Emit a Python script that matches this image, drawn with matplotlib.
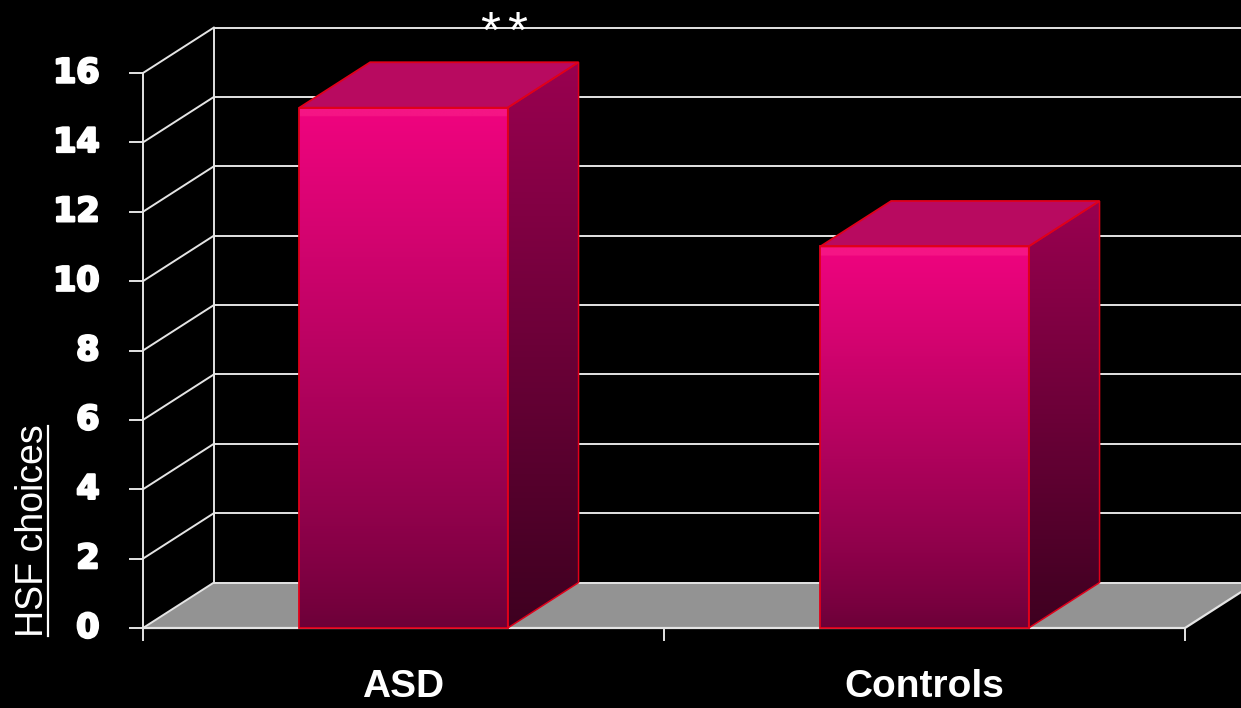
import matplotlib

matplotlib.use("Agg")
import matplotlib.pyplot as plt
import matplotlib.patheffects as pe
import numpy as np
from matplotlib.colors import to_rgb
from matplotlib.patches import Polygon

# --- data -------------------------------------------------------------------
categories = ["ASD", "Controls"]
values = [15, 11]
significance = ["**", ""]
yticks = [0, 2, 4, 6, 8, 10, 12, 14, 16]
ylabel = "HSF choices"

# --- look -------------------------------------------------------------------
BG = "black"
GRID = "#e4e4e4"
FLOOR = "#939393"
EDGE = "#e0001a"
FRONT_TOP, FRONT_BOT, FRONT_HI = "#f0047f", "#6c0038", "#f51585"
SIDE_TOP, SIDE_BOT = "#9a0050", "#3e0020"
TOP_FACE = "#b80a60"

bar_w = 0.4
dx, dy = 0.136, 1.31          # depth offset of the 3-D box (data units)

fig = plt.figure(figsize=(12.41, 7.08), dpi=100)
fig.patch.set_facecolor(BG)
ax = fig.add_axes([0, 0, 1, 1])
ax.set_facecolor(BG)
ax.axis("off")
XLIM = (-143 / 521, (1241 - 143) / 521)
YLIM = (-80 / 34.6875, 628 / 34.6875)

n = len(categories)
ymax = yticks[-1]
heavy = [pe.withStroke(linewidth=1.8, foreground="white")]


def gradient(c_bot, c_top, rows=400, power=1.0):
    t = np.linspace(0, 1, rows)[:, None, None] ** power
    a, b = np.array(to_rgb(c_bot)), np.array(to_rgb(c_top))
    return a + (b - a) * t


# floor
ax.add_patch(Polygon([(0, 0), (n, 0), (n + dx, dy), (dx, dy)],
                     closed=True, facecolor=FLOOR, edgecolor="none", zorder=1))
ax.plot([0, n, n + dx], [0, 0, dy], color=GRID, lw=1.6, zorder=2)

# back wall grid + side wall diagonals
for v in yticks:
    ax.plot([dx, n + dx], [v + dy, v + dy], color=GRID, lw=1.4, zorder=2)
    ax.plot([0, dx], [v, v + dy], color=GRID, lw=1.4, zorder=2)
    ax.plot([-0.025, 0], [v, v], color=GRID, lw=1.4, zorder=2)
    ax.text(-0.0835, v, str(v), color="white", fontsize=24,
            fontweight="bold", family="DejaVu Sans", path_effects=heavy,
            ha="right", va="center", zorder=5)
ax.plot([0, 0], [-0.35, ymax], color=GRID, lw=1.4, zorder=2)
ax.plot([dx, dx], [dy, ymax + dy], color=GRID, lw=1.4, zorder=2)
for k in range(1, n + 1):
    ax.plot([k, k], [-0.35, 0], color=GRID, lw=1.4, zorder=2)

# bars
for i, (cat, v, sig) in enumerate(zip(categories, values, significance)):
    x0 = i + 0.5 - bar_w / 2
    x1 = x0 + bar_w

    front = gradient(FRONT_BOT, FRONT_TOP, power=0.85)
    hi = np.linspace(0, v, front.shape[0]) > v - 0.25
    front[hi] = to_rgb(FRONT_HI)
    ax.imshow(front, extent=[x0, x1, 0, v], origin="lower",
              aspect="auto", interpolation="bilinear", zorder=3)

    side = Polygon([(x1, 0), (x1 + dx, dy), (x1 + dx, v + dy), (x1, v)],
                   closed=True, facecolor="none", edgecolor="none")
    ax.add_patch(side)
    im = ax.imshow(gradient(SIDE_BOT, SIDE_TOP), extent=[x1, x1 + dx, 0, v + dy],
                   origin="lower", aspect="auto", interpolation="bilinear",
                   zorder=3)
    im.set_clip_path(side)

    ax.add_patch(Polygon([(x0, v), (x1, v), (x1 + dx, v + dy), (x0 + dx, v + dy)],
                         closed=True, facecolor=TOP_FACE, edgecolor=EDGE,
                         lw=1.3, zorder=4))
    ax.add_patch(Polygon([(x0, 0), (x1, 0), (x1, v), (x0, v)], closed=True,
                         facecolor="none", edgecolor=EDGE, lw=1.3, zorder=4))
    ax.add_patch(Polygon([(x1, 0), (x1 + dx, dy), (x1 + dx, v + dy), (x1, v)],
                         closed=True, facecolor="none", edgecolor=EDGE,
                         lw=1.1, zorder=4))

    ax.text(i + 0.5, -1.98, cat, color="white", fontsize=28, fontweight="bold",
            family="Liberation Sans", ha="center", va="baseline", zorder=5)
    # significance stars, spaced a little wider than the font does
    for j, ch in enumerate(sig):
        ax.text(i + 0.667 + 0.052 * j, ymax + 0.72, ch, color="white",
                fontsize=37, family="Liberation Sans",
                ha="center", va="baseline", zorder=5)

# y label, underlined
lab = ax.text(-0.192, 2.8, ylabel, color="white", fontsize=27,
              family="Liberation Sans", rotation=90, rotation_mode="anchor",
              ha="center", va="baseline", zorder=5)

ax.set_xlim(*XLIM)
ax.set_ylim(*YLIM)

fig.canvas.draw()
bb = lab.get_window_extent().transformed(ax.transData.inverted())
ax.plot([-0.1823, -0.1823], [bb.y0 + 0.05, bb.y1 - 0.05], color="white",
        lw=1.6, zorder=5)
ax.set_xlim(*XLIM)
ax.set_ylim(*YLIM)

fig.savefig("out.png", dpi=100, facecolor=BG)
